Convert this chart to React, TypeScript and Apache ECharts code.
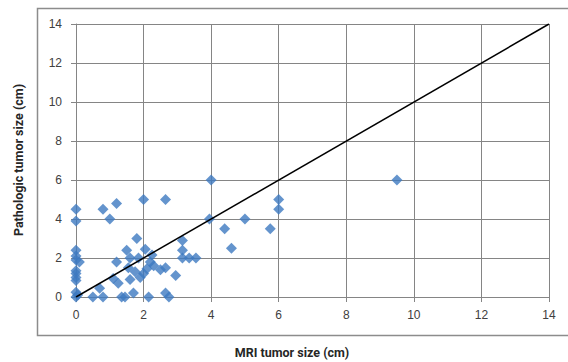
import React, { useEffect, useRef } from "react";
import * as echarts from "echarts";

const xTicks = [0, 2, 4, 6, 8, 10, 12, 14];
const yTicks = [0, 2, 4, 6, 8, 10, 12, 14];

const mriSize = [
  0, 0, 0, 0, 0.1, 0, 0, 0, 0, 0, 0, 0.05, 0,
  0.5, 0.8, 0.7, 0.8, 1.2, 1.0, 1.2, 1.1, 1.25, 1.35, 1.45, 1.5, 1.8, 1.6, 1.7, 1.6,
  1.55, 1.75, 1.85, 2.0, 1.9, 2.05, 2.0, 2.65, 2.25, 2.2, 2.1, 2.3, 2.5, 2.65, 2.95,
  2.15, 2.65, 2.75, 3.15, 3.15, 3.15, 3.35, 3.55, 3.95, 4.0, 4.4, 4.6, 5.0, 5.75,
  6.0, 6.0, 9.5,
];
const pathSize = [
  4.5, 3.9, 2.4, 2.1, 1.8, 1.9, 1.35, 1.2, 1.0, 0.85, 0.25, 0.1, 0,
  0, 0, 0.45, 4.5, 4.8, 4.0, 1.8, 0.95, 0.7, 0, 0, 2.4, 3.0, 2.0, 0.2, 0.9,
  1.5, 1.3, 2.0, 1.2, 1.0, 2.45, 5.0, 5.0, 2.15, 1.8, 1.45, 1.6, 1.4, 1.5, 1.1,
  0, 0.2, 0, 2.9, 2.4, 2.0, 2.0, 2.0, 4.0, 6.0, 3.5, 2.5, 4.0, 3.5,
  5.0, 4.5, 6.0,
];
const refLine = [
  [0, 0],
  [14, 14],
];

export default function App() {
  const ref = useRef<HTMLDivElement>(null);
  useEffect(() => {
    if (!ref.current) return;
    const chart = echarts.init(ref.current, null, { renderer: "svg" });
    const points = mriSize.map((x, i) => [x, pathSize[i]]);
    const gridColor = "#858585";
    const labelStyle = {
      color: "#404040",
      fontSize: 12,
      fontFamily: "Liberation Sans",
    };
    chart.setOption({
      animation: false,
      backgroundColor: "#ffffff",
      grid: { left: 76, top: 24, right: 19, bottom: 65, containLabel: false },
      xAxis: {
        type: "value",
        min: xTicks[0],
        max: xTicks[xTicks.length - 1],
        interval: 2,
        axisLine: { show: true, lineStyle: { color: gridColor, width: 1 } },
        axisTick: { show: true, length: 5, lineStyle: { color: gridColor } },
        splitLine: { show: true, lineStyle: { color: gridColor, width: 1 } },
        axisLabel: { ...labelStyle, margin: 12 },
      },
      yAxis: {
        type: "value",
        min: yTicks[0],
        max: yTicks[yTicks.length - 1],
        interval: 2,
        axisLine: { show: true, lineStyle: { color: gridColor, width: 1 } },
        axisTick: { show: true, length: 5, lineStyle: { color: gridColor } },
        splitLine: { show: true, lineStyle: { color: gridColor, width: 1 } },
        axisLabel: { ...labelStyle, margin: 14 },
      },
      graphic: [
        {
          type: "rect",
          shape: { x: 37.5, y: 8.5, width: 540, height: 327 },
          style: { fill: "none", stroke: "#8c8c8c", lineWidth: 1.5 },
          z: -10,
        },
        {
          type: "text",
          x: 18,
          y: 160,
          rotation: Math.PI / 2,
          style: {
            text: "Pathologic tumor size (cm)",
            fontSize: 12.5,
            fontWeight: "bold",
            fontFamily: "Roboto",
            fill: "#262626",
            align: "center",
            verticalAlign: "middle",
          },
        },
        {
          type: "text",
          x: 292,
          y: 352,
          style: {
            text: "MRI tumor size (cm)",
            fontSize: 12.5,
            fontWeight: "bold",
            fontFamily: "Roboto",
            fill: "#262626",
            align: "center",
            verticalAlign: "middle",
          },
        },
      ],
      series: [
        {
          type: "scatter",
          data: points,
          symbol: "diamond",
          symbolSize: 11,
          itemStyle: { color: "#3d79c0" },
          z: 2,
        },
        {
          type: "line",
          data: refLine,
          symbol: "none",
          lineStyle: { color: "#000000", width: 1.5 },
          z: 3,
        },
      ],
    });
    return () => chart.dispose();
  }, []);
  return <div ref={ref} style={{ width: 568, height: 362, position: "absolute", left: 0, top: 0 }} />;
}
